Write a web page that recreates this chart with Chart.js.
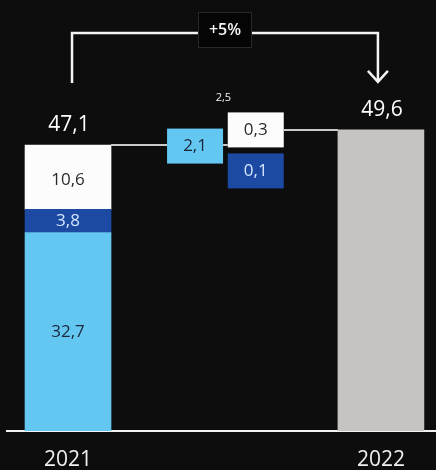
<!DOCTYPE html>
<html><head><meta charset="utf-8">
<script src="https://cdn.jsdelivr.net/npm/chart.js@4.4.1/dist/chart.umd.min.js"></script>
<style>html,body{margin:0;padding:0;background:#0d0d0d;}canvas{display:block;}</style>
</head><body>
<canvas id="c" width="436" height="470"></canvas>
<script>
// ---- data ----
const years = ['2021', '2022'];
const segmentNames = ['Segment A', 'Segment B', 'Segment C'];
const segments2021 = [32.7, 3.8, 10.6];
const total2021 = 47.1;
const total2022 = 49.6;
const changes = [2.1, 0.3, 0.1];
const changeTotal = 2.5;
const growthLabel = '+5%';

// ---- layout / style constants ----
const xYear = [0, 1];
const xChange = [0.406, 0.6];
const COLORS = { light: '#63c7f2', dark: '#1c49a2', white: '#fcfcfc', gray: '#c6c4c1', line: '#c9c9c9' };
const segColors = [COLORS.light, COLORS.dark, COLORS.white];
const segText = ['#1c2638', '#d4e6ff', '#2a2a2a'];
const changeColors = [COLORS.light, COLORS.white, COLORS.dark];
const changeText = ['#1c2638', '#2a2a2a', '#d4e6ff'];
const FONT = '"Open Sans", sans-serif';
const fmt = v => v.toFixed(1).replace('.', ',');

const datasets = segments2021.map((v, i) => ({
  label: segmentNames[i],
  data: [{ x: xYear[0], y: v }],
  backgroundColor: segColors[i],
  barThickness: 86,
  grouped: false,
  borderWidth: 0
}));
datasets.push({
  label: years[1],
  data: [{ x: xYear[1], y: total2022 }],
  backgroundColor: COLORS.gray,
  barThickness: 86,
  grouped: false,
  borderWidth: 0
});

function txt(ctx, s, x, y, color, size, weight) {
  ctx.fillStyle = color;
  ctx.font = (weight || 400) + ' ' + size + 'px ' + FONT;
  ctx.textAlign = 'center';
  ctx.textBaseline = 'middle';
  ctx.fillText(s, x, y);
}

const overlay = {
  id: 'overlay',
  afterDatasetsDraw(chart) {
    const { ctx, scales: { x, y }, chartArea } = chart;
    ctx.save();
    segments2021.forEach((v, i) => {
      const el = chart.getDatasetMeta(i).data[0];
      txt(ctx, fmt(v), el.x, (el.y + el.base) / 2 + (i === 2 ? 3 : 0), segText[i], 17);
    });
    const b21 = chart.getDatasetMeta(0).data[0];
    const b22 = chart.getDatasetMeta(3).data[0];
    const x21 = b21.x, x22 = b22.x;
    const y21 = y.getPixelForValue(total2021), y22 = y.getPixelForValue(total2022);
    txt(ctx, fmt(total2021), x21 + 1, y21 - 20, '#ffffff', 21);
    txt(ctx, fmt(total2022), x22 + 1, y22 - 20, '#ffffff', 21);

    const w = 56, h = 35;
    const c0x = x.getPixelForValue(xChange[0]);
    const c1x = x.getPixelForValue(xChange[1]);
    const boxes = [
      { cx: c0x, cy: y21 + 1 },
      { cx: c1x, cy: y22 },
      { cx: c1x, cy: y22 + 41 }
    ];
    ctx.strokeStyle = COLORS.line;
    ctx.lineWidth = 2;
    ctx.beginPath();
    ctx.moveTo(x21 + b21.width / 2, y21); ctx.lineTo(c0x - w / 2, y21);
    ctx.moveTo(c0x + w / 2, y21); ctx.lineTo(c1x - w / 2, y21);
    ctx.moveTo(c1x + w / 2, y22); ctx.lineTo(x22 - b22.width / 2, y22);
    ctx.stroke();
    boxes.forEach((b, i) => {
      ctx.fillStyle = changeColors[i];
      ctx.fillRect(b.cx - w / 2, b.cy - h / 2, w, h);
      txt(ctx, fmt(changes[i]), b.cx, b.cy, changeText[i], 17);
    });
    txt(ctx, fmt(changeTotal), x.getPixelForValue((xChange[0] + xChange[1]) / 2) - 2, y22 - 32, '#f0f0f0', 11);

    const lx = x21 + 4, rx = x22 - 3;
    const ty = chartArea.top + 33;
    const ly = y21 - 62, ay = y22 - 48;
    ctx.strokeStyle = '#f4f4f4';
    ctx.lineWidth = 2.5;
    ctx.beginPath();
    ctx.moveTo(lx, ly); ctx.lineTo(lx, ty); ctx.lineTo(rx, ty); ctx.lineTo(rx, ay);
    ctx.moveTo(rx - 10, ay - 11); ctx.lineTo(rx, ay); ctx.lineTo(rx + 10, ay - 11);
    ctx.stroke();
    const mx = (lx + rx) / 2;
    ctx.fillStyle = '#050505';
    ctx.fillRect(mx - 27, ty - 21, 54, 36);
    ctx.strokeStyle = '#2a2a2a';
    ctx.lineWidth = 1;
    ctx.strokeRect(mx - 27 + 0.5, ty - 21 + 0.5, 53, 35);
    txt(ctx, growthLabel, mx, ty - 3, '#f4f4f4', 16, 600);
    ctx.restore();
  }
};

new Chart(document.getElementById('c'), {
  type: 'bar',
  data: { datasets },
  options: {
    responsive: false,
    animation: false,
    devicePixelRatio: 1,
    layout: { padding: { left: 7, right: 0, top: 0, bottom: 0 } },
    plugins: { legend: { display: false }, tooltip: { enabled: false } },
    scales: {
      x: {
        type: 'linear', min: -0.195, max: 1.176, offset: false,
        grid: { display: true, drawOnChartArea: false, drawTicks: false },
        border: { display: true, color: '#f2f2f2', width: 2 },
        afterBuildTicks: a => { a.ticks = xYear.map(v => ({ value: v })); },
        afterFit: a => { a.height = 39; },
        ticks: {
          color: '#f0f0f0', font: { family: FONT, size: 21 }, padding: 16,
          maxRotation: 0, autoSkip: false,
          callback: (v) => { const i = xYear.indexOf(v); return i >= 0 ? years[i] : ''; }
        }
      },
      y: { display: false, stacked: true, min: 0, max: 71 }
    }
  },
  plugins: [overlay, {
    id: 'bg',
    beforeDraw(c) { const g = c.ctx; g.save(); g.fillStyle = '#0d0d0d'; g.fillRect(0, 0, c.width, c.height); g.restore(); }
  }]
});
</script>
</body></html>
